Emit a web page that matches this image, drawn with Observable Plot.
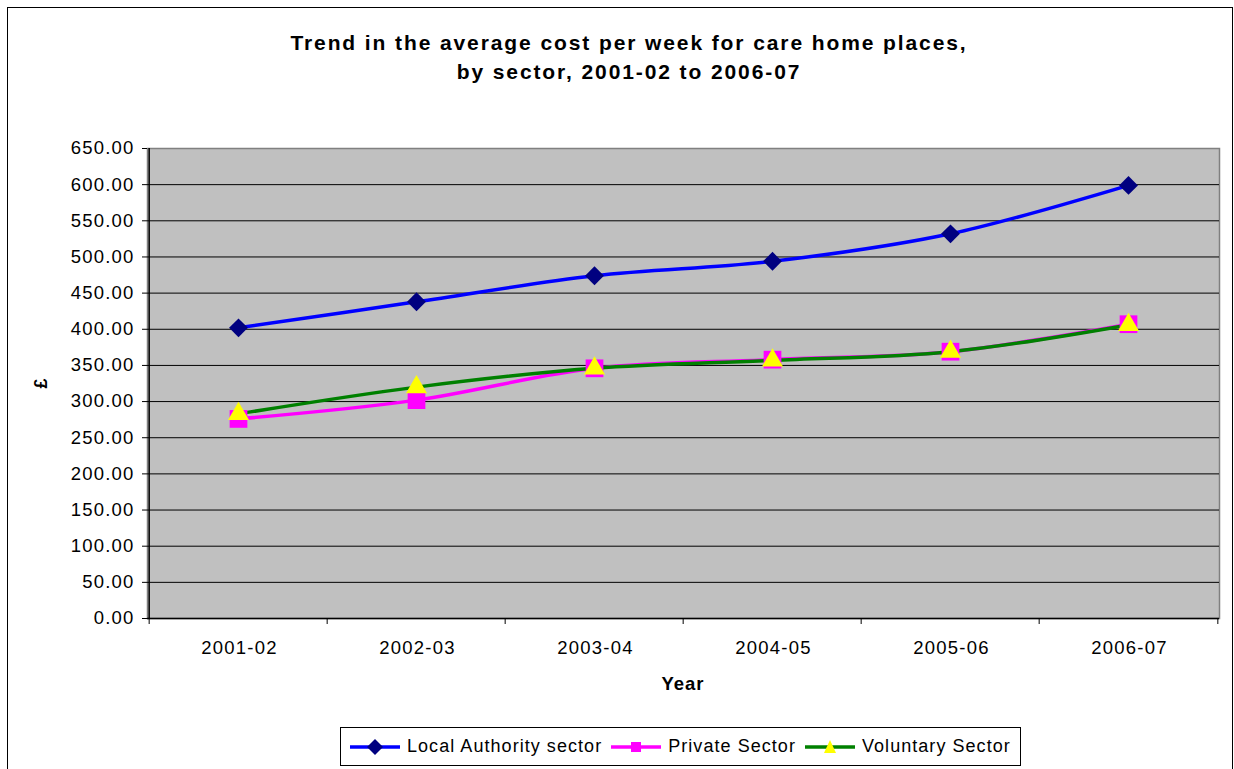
<!DOCTYPE html>
<html><head><meta charset="utf-8">
<script src="https://cdn.jsdelivr.net/npm/d3@7"></script>
<script src="https://cdn.jsdelivr.net/npm/@observablehq/plot@0.6"></script>
<style>
body{margin:0;background:#fff;font-family:"Liberation Sans",Arial,sans-serif;color:#000;}
#wrap{position:relative;width:1234px;height:769px;overflow:hidden;background:#fff;}
#border{position:absolute;left:7px;top:7px;width:1224px;height:800px;border:1px solid #000;}
#chart{position:absolute;left:0;top:0;}
#title{position:absolute;left:0;width:1258px;top:28px;text-align:center;font-weight:bold;font-size:21px;line-height:29px;letter-spacing:1.9px;}
#ylab{position:absolute;left:36px;top:373px;font-weight:bold;font-size:18px;transform:rotate(-90deg);transform-origin:center;}
#xlab{position:absolute;left:583px;width:200px;top:673px;text-align:center;font-weight:bold;font-size:18.5px;letter-spacing:1px;}
#legend{position:absolute;left:340px;top:727px;width:679px;height:37px;border:1px solid #000;background:#fff;display:flex;align-items:center;font-size:18px;letter-spacing:1.05px;}
#legend .item{display:flex;align-items:center;margin-left:8px;}
#legend svg{margin-right:6px;}
.ticks text{letter-spacing:1.2px;}
</style>
</head><body>
<div id="wrap">
  <div id="border"></div>
  <div id="chart"></div>
  <div id="title">Trend in the average cost per week for care home places,<br>by sector, 2001-02 to 2006-07</div>
  <div id="ylab">£</div>
  <div id="xlab">Year</div>
  <div id="legend"></div>
</div>
<script>
const years = ["2001-02", "2002-03", "2003-04", "2004-05", "2005-06", "2006-07"];
const localAuthority = [402, 438, 474, 494, 532, 599];
const privateSector = [276, 302, 346, 358, 369, 407];
const voluntarySector = [283, 320, 346, 357, 369, 406];
const yTicks = [0, 50, 100, 150, 200, 250, 300, 350, 400, 450, 500, 550, 600, 650];
const seriesNames = ["Local Authority sector", "Private Sector", "Voluntary Sector"];

const W = 1234, H = 769, mL = 147, mR = 15, mT = 148, mB = 151;
const bw = (W - mL - mR) / years.length;

const toRows = vals => years.map((y, i) => ({year: y, value: vals[i]}));
const la = toRows(localAuthority), pr = toRows(privateSector), vo = toRows(voluntarySector);

const chart = Plot.plot({
  width: W, height: H,
  marginLeft: mL, marginRight: mR, marginTop: mT, marginBottom: mB,
  x: {type: "point", domain: years, padding: 0.5, label: null},
  y: {domain: [0, 650], label: null},
  style: {fontFamily: "Liberation Sans, Arial, sans-serif", fontSize: "18.5px", color: "#000", background: "transparent"},
  marks: [
    Plot.frame({fill: "#c0c0c0", stroke: "#808080", strokeWidth: 1.5}),
    Plot.ruleY(yTicks.filter(v => v > 0 && v < 650), {stroke: "#000", strokeWidth: 1}),
    Plot.ruleY([0], {stroke: "#000", strokeWidth: 1.5}),
    Plot.ruleX([years[0]], {dx: -bw / 2, stroke: "#000", strokeWidth: 1.5}),
    Plot.ruleX(years, {dx: -bw / 2, y1: 0, y2: 0, insetTop: 0, insetBottom: -6, stroke: "#000", strokeWidth: 1}),
    Plot.ruleX([years[years.length - 1]], {dx: bw / 2, y1: 0, y2: 0, insetTop: 0, insetBottom: -6, stroke: "#000", strokeWidth: 1}),
    Plot.axisY({ticks: yTicks, tickFormat: d => d.toFixed(2), tickSize: 5, tickPadding: 8, label: null, fontSize: 18.5, strokeWidth: 1, className: "ticks"}),
    Plot.axisX({tickSize: 0, tickPadding: 22, label: null, fontSize: 18.5, className: "ticks", dx: 1}),
    Plot.line(la, {x: "year", y: "value", stroke: "#0000ff", strokeWidth: 3.5, curve: "catmull-rom"}),
    Plot.line(pr, {x: "year", y: "value", stroke: "#ff00ff", strokeWidth: 3.5, curve: "catmull-rom"}),
    Plot.line(vo, {x: "year", y: "value", stroke: "#008000", strokeWidth: 3.5, curve: "catmull-rom"}),
    Plot.dot(la, {x: "year", y: "value", symbol: "diamond2", r: 8.5, fill: "#000080", stroke: "none"}),
    Plot.dot(pr, {x: "year", y: "value", symbol: "square", r: 10, fill: "#ff00ff", stroke: "none"}),
    Plot.dot(vo, {x: "year", y: "value", symbol: "triangle", r: 7.8, fill: "#ffff00", stroke: "none"})
  ]
});
document.getElementById("chart").appendChild(chart);

// legend
const legendSpec = [
  {name: seriesNames[0], line: "#0000ff", marker: "diamond"},
  {name: seriesNames[1], line: "#ff00ff", marker: "square"},
  {name: seriesNames[2], line: "#008000", marker: "triangle"}
];
const ns = "http://www.w3.org/2000/svg";
const legend = document.getElementById("legend");
legendSpec.forEach(s => {
  const item = document.createElement("div");
  item.className = "item";
  const svg = document.createElementNS(ns, "svg");
  svg.setAttribute("width", 52); svg.setAttribute("height", 20);
  const ln = document.createElementNS(ns, "line");
  ln.setAttribute("x1", 1); ln.setAttribute("x2", 51); ln.setAttribute("y1", 10); ln.setAttribute("y2", 10);
  ln.setAttribute("stroke", s.line); ln.setAttribute("stroke-width", 3.5);
  svg.appendChild(ln);
  const p = document.createElementNS(ns, "path");
  if (s.marker === "diamond") { p.setAttribute("d", "M26,2L34,10L26,18L18,10Z"); p.setAttribute("fill", "#000080"); }
  if (s.marker === "square") { p.setAttribute("d", "M21,5H31V15H21Z"); p.setAttribute("fill", "#ff00ff"); }
  if (s.marker === "triangle") { p.setAttribute("d", "M26,3L32,16H20Z"); p.setAttribute("fill", "#ffff00"); }
  svg.appendChild(p);
  item.appendChild(svg);
  const t = document.createElement("span");
  t.textContent = s.name;
  item.appendChild(t);
  legend.appendChild(item);
});
</script>
</body></html>
